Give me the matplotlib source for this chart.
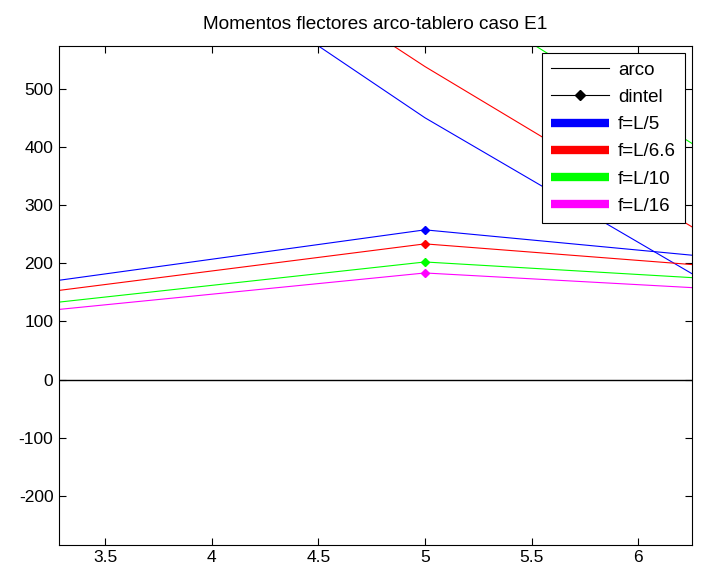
import matplotlib
matplotlib.use("Agg")
import matplotlib.pyplot as plt
from matplotlib.lines import Line2D

plt.rcParams['font.family'] = ['Liberation Sans', 'DejaVu Sans']
plt.rcParams['axes.unicode_minus'] = False

# nodos (m) y momentos flectores (kN m)
x_nodos = [3.0, 5.0, 7.0]

arco_L5 = [944.0, 450.0, 22.0]
arco_L66 = [1018.0, 538.0, 98.0]
arco_L10 = [1172.0, 692.0, 235.0]
arco_L16 = [1360.0, 880.0, 430.0]

dintel_L5 = [156.4, 257.4, 187.8]
dintel_L66 = [140.1, 233.3, 176.5]
dintel_L10 = [121.8, 202.2, 159.2]
dintel_L16 = [110.3, 183.3, 143.1]

casos = ['f=L/5', 'f=L/6.6', 'f=L/10', 'f=L/16']
colores = ['#0000ff', '#ff0000', '#00ff00', '#ff00ff']

arcos = [arco_L5, arco_L66, arco_L10, arco_L16]
dinteles = [dintel_L5, dintel_L66, dintel_L10, dintel_L16]

fig = plt.figure(figsize=(7.02, 5.70), dpi=100)
ax = fig.add_axes([0.084, 0.044, 0.902, 0.876])

for a, d, c in zip(arcos, dinteles, colores):
    ax.plot(x_nodos, a, '-', color=c, lw=0.8)
    ax.plot(x_nodos, d, '-D', color=c, lw=0.8, ms=4)

ax.axhline(0, color='k', lw=1.0)

ax.set_xlim(3.284, 6.253)
ax.set_ylim(-284, 574)
ax.set_xticks([3.5, 4, 4.5, 5, 5.5, 6])
ax.set_xticklabels(['3.5', '4', '4.5', '5', '5.5', '6'])
ax.set_yticks([-200, -100, 0, 100, 200, 300, 400, 500])
ax.tick_params(direction='in', top=True, right=True, length=5, width=0.8,
               labelsize=12.5, pad=4)
for s in ax.spines.values():
    s.set_linewidth(0.8)

ax.set_title('Momentos flectores arco-tablero caso E1', fontsize=13.7, pad=12)

handles = [Line2D([], [], color='k', lw=0.8),
           Line2D([], [], color='k', lw=0.8, marker='D', ms=5)]
handles += [Line2D([], [], color=c, lw=6, solid_capstyle='butt')
            for c in colores]
etiquetas = ['arco', 'dintel'] + casos
leg = ax.legend(handles, etiquetas, loc='upper right', fontsize=13.5,
                frameon=True, fancybox=False, edgecolor='k', framealpha=1,
                borderaxespad=0.4, handlelength=3.1, labelspacing=0.54,
                handletextpad=0.5, borderpad=0.45)
leg.get_frame().set_linewidth(0.8)

fig.savefig('out.png', dpi=100)
